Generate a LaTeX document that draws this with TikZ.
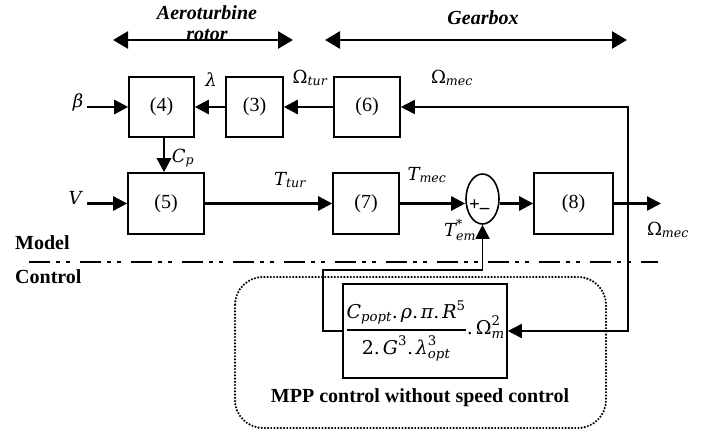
\documentclass[tikz,border=0pt]{standalone}
\usepackage{amsmath}
\usepackage{fontspec}
\setmainfont{Liberation Serif}
\newfontfamily\mathlike{DejaVu Serif}
\newcommand\mv[1]{\text{\mathlike\itshape #1}}
\newcommand\mup[1]{\text{\mathlike #1}}
\usetikzlibrary{arrows.meta,calc,shapes.geometric}
\begin{document}
\begin{tikzpicture}[x=1pt,y=-1pt,
  blk/.style={draw,line width=1.6pt,minimum width=#1,minimum height=60pt,inner sep=0pt,font=\fontsize{20}{24}\selectfont},
  arr/.style={line width=2.6pt,-{Triangle[length=14pt,width=14pt]}},
  thinarr/.style={line width=1.8pt,-{Triangle[length=14pt,width=14pt]}},
  dbl/.style={line width=2.6pt,{Triangle[length=15pt,width=17pt]}-{Triangle[length=15pt,width=17pt]}},
  lbl/.style={font=\fontsize{18}{22}\selectfont,inner sep=0pt},
  hdr/.style={font=\fontsize{20}{24}\selectfont\bfseries\itshape,inner sep=0pt},
  sec/.style={font=\fontsize{20}{24}\selectfont\bfseries,inner sep=0pt}]
\useasboundingbox (0,0) rectangle (715,434);

% header arrows
\coordinate (a1) at (113,40); \coordinate (a2) at (293,40);
\coordinate (g1) at (325,40); \coordinate (g2) at (627,40);
\draw[dbl] (a1) -- (a2);
\draw[dbl] (g1) -- (g2);
\node[hdr] at (207,13) {Aeroturbine};
\node[hdr] at (207,35) {rotor};
\node[hdr] at (483,18) {Gearbox};

% blocks
\node[blk=65pt] (b4) at (161.5,107) {(4)};
\node[blk=57pt] (b3) at (254.5,107) {(3)};
\node[blk=66pt] (b6) at (367,107) {(6)};
\node[blk=76pt,minimum height=61pt] (b5) at (166,203.5) {(5)};
\node[blk=66pt,minimum height=61pt] (b7) at (366,203.5) {(7)};
\node[blk=79pt,minimum height=61pt] (b8) at (573.5,203.5) {(8)};
\node[ellipse,draw,line width=1.6pt,minimum width=33pt,minimum height=50pt,inner sep=0pt] (sum) at (482.5,199) {};
\node[lbl,font=\fontsize{19}{20}\selectfont\bfseries] at (474.5,205) {+};
\node[lbl,font=\fontsize{19}{20}\selectfont\bfseries] at (484.5,211) {–};

% labels
\node[lbl] at (78,102) {$\mv{β}$};
\node[lbl] at (211,80) {$\mv{λ}$};
\node[lbl] at (310,78) {$\mup{Ω}_{\mv{tur}}$};
\node[lbl] at (452,78) {$\mup{Ω}_{\mv{mec}}$};
\node[lbl] at (183,158) {$\mv{C}_{\mv{p}}$};
\node[lbl] at (75,198) {$\mv{V}$};
\node[lbl] at (290,180) {$\mv{T}_{\mv{tur}}$};
\node[lbl] at (427,175) {$\mv{T}_{\mv{mec}}$};
\node[lbl] at (460,230) {$\mv{T}^{\mup{*}}_{\mv{em}}$};
\node[lbl] at (668,230) {$\mup{Ω}_{\mv{mec}}$};

% connectors
\coordinate (bi) at (87,107);
\coordinate (vi) at (87,203.5);
\coordinate (out) at (661,203.5);
\coordinate (fbx) at (628,203.5);
\coordinate (c1) at (323,270);
\draw[arr] (bi) -- (b4.west);
\draw[arr] (b3.west) -- (b4.east);
\draw[arr] (b6.west) -- (b3.east);
\draw[arr] ([xshift=2.5pt]b4.south) -- ([xshift=2.5pt]b4.south |- b5.north);
\draw[arr] (vi) -- (b5.west);
\draw[arr] (b5.east) -- (b7.west);
\draw[arr] (b7.east) -- (b7.east -| sum.west);
\draw[arr] (sum.east |- b8.west) -- (b8.west);
\draw[arr] (b8.east) -- (out);
\draw[thinarr] (fbx) |- (b6.east);

% divider
\draw[line width=2.6pt,dash pattern=on 21pt off 6pt on 4pt off 6pt on 4pt off 10pt] (29,262) -- (658,262);
\node[sec,anchor=west] at (15,243) {Model};
\node[sec,anchor=west] at (15,277) {Control};

% control
\draw[line width=2.4pt,dash pattern=on 0pt off 3.2pt,line cap=round,rounded corners=28pt] (235,277) rectangle (606,428);
\node[draw,line width=1.6pt,minimum width=164pt,minimum height=94pt,inner sep=0pt,font=\fontsize{19}{22}\selectfont] (form) at (425,331)
  {$\displaystyle{\mv{C}_{\mv{popt}}\mup{.}\,\mv{ρ}\mup{.}\,\mv{π}\mup{.}\,\mv{R}^{\mup{5}} \above 1.6pt \mup{2.}\,\mv{G}^{\mup{3}}\mup{.}\,\mv{λ}^{\mup{3}}_{\mv{opt}}}\mup{.}\,\mup{Ω}^{\mup{2}}_{\mv{m}}$};
\draw[thinarr] (fbx) |- (form.east);
\draw[thinarr] (form.west) -| (c1) -| (sum.south);
\node[sec] at (420,398) {MPP control without speed control};
\end{tikzpicture}
\end{document}
